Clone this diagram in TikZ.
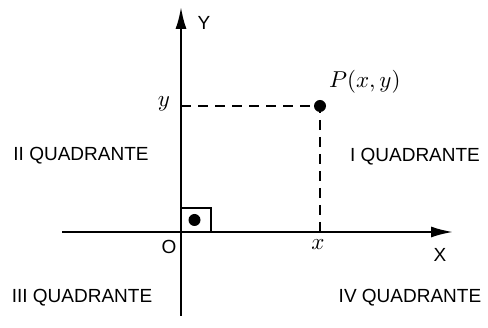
\documentclass[tikz,border=0pt]{standalone}
\usepackage{graphicx}
\usepackage{fontspec}
\setmainfont{Liberation Sans}
\usetikzlibrary{arrows.meta}
\newcommand{\mylbl}[1]{\scalebox{2.3}{$#1$}}
\begin{document}
\begin{tikzpicture}[x=1pt,y=-1pt,
  axis/.style={line width=2.1pt,-{Latex[length=22pt,width=11pt]}},
  guide/.style={line width=1.9pt,dash pattern=on 10pt off 7pt},
  lbl/.style={font=\fontsize{19}{22}\selectfont,inner sep=0pt},
  mlbl/.style={inner sep=0pt},
  dotm/.style={fill=black,draw=none}]
\useasboundingbox (0,0) rectangle (488,328);
\coordinate (xs) at (62,232);
\coordinate (xe) at (453,232);
\coordinate (ys) at (181,316);
\coordinate (ye) at (181,7);
\coordinate (o) at (181,232);
\coordinate (p) at (320,106);
\coordinate (py) at (181,106);
\coordinate (px) at (320,232);
\draw[axis] (xs) -- (xe);
\draw[axis] (ys) -- (ye);
\draw[line width=1.9pt] (o) |- (211,208) -- (211,232);
\fill[dotm] (194.5,220) circle (6);
\draw[guide] (py) -- (p) -- (px);
\fill[dotm] (p) circle (6);
\node[lbl] (ylab) at (204,23) {Y};
\node[lbl] (xlab) at (440,255) {X};
\node[lbl] (olab) at (169,247) {O};
\node[mlbl] (yv) at (164,104) {\mylbl{y}};
\node[mlbl] (xv) at (318,245) {\mylbl{x}};
\node[mlbl,anchor=west] (plab) at (329,82) {\mylbl{P(x,y)}};
\node[lbl] (q2) at (81,156) {II QUADRANTE};
\node[lbl] (q1) at (415,157) {I QUADRANTE};
\node[lbl] (q3) at (82,298) {III QUADRANTE};
\node[lbl] (q4) at (410,298) {IV QUADRANTE};
\end{tikzpicture}
\end{document}
